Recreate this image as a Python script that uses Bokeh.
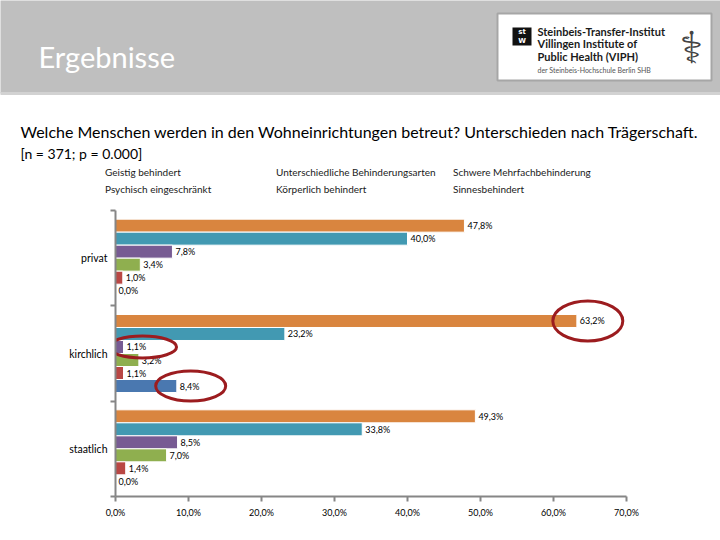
from bokeh.plotting import figure
from bokeh.models import (ColumnDataSource, FixedTicker, Legend, LegendItem, Range1d)
from bokeh.core.properties import value
from bokeh.embed import file_html
from bokeh.resources import INLINE

# ---------------- data ----------------
groups = ["privat", "kirchlich", "staatlich"]
series = ["Geistig behindert", "Unterschiedliche Behinderungsarten",
          "Schwere Mehrfachbehinderung", "Psychisch eingeschränkt",
          "Körperlich behindert", "Sinnesbehindert"]
geistig = [47.8, 63.2, 49.3]
unterschiedlich = [40.0, 23.2, 33.8]
schwer = [7.8, 1.1, 8.5]
psychisch = [3.4, 3.2, 7.0]
koerperlich = [1.0, 1.1, 1.4]
sinnes = [0.0, 8.4, 0.0]
values_all = [geistig, unterschiedlich, schwer, psychisch, koerperlich, sinnes]

x_ticks = [0, 10, 20, 30, 40, 50, 60, 70]
x_tick_labels = ["0,0%", "10,0%", "20,0%", "30,0%", "40,0%", "50,0%", "60,0%", "70,0%"]

# highlighted (circled) values: (group index, series index)
circled = [(1, 0), (1, 2), (1, 5)]

title_text = "Welche Menschen werden in den Wohneinrichtungen betreut? Unterschieden nach Trägerschaft."
subtitle_text = "[n = 371; p = 0.000]"
header_text = "Ergebnisse"
logo_lines = ["Steinbeis-Transfer-Institut", "Villingen Institute of", "Public Health (VIPH)"]
logo_small = "der Steinbeis-Hochschule Berlin SHB"

# ---------------- style ----------------
colors = ["#D9853F", "#4299B2", "#775B93", "#8FAF4F", "#B94744", "#4A78B0"]
FONT = "Lato"
pitch = 0.1364
bar_h = 0.1364
n_groups = len(groups)
centers = [n_groups - 0.5 - i for i in range(n_groups)]

# ================= header / title / legend figure =================
h = figure(width=720, height=202, output_backend="svg", toolbar_location=None,
           x_range=Range1d(0, 720), y_range=Range1d(202, 0),
           min_border=0, min_border_left=0, min_border_right=0,
           min_border_top=0, min_border_bottom=0)
h.xaxis.visible = False
h.yaxis.visible = False
h.xgrid.visible = False
h.ygrid.visible = False
h.outline_line_color = None
h.title.visible = False

# grey band
h.quad(left=[-2], right=[722], top=[-2], bottom=[93], fill_color="#BFBFBF",
       line_color="#D2D2D2", line_width=3)
h.text(x=[38], y=[56], text=[header_text], text_color="white",
       text_font=value(FONT), text_font_size="29px", text_baseline="middle")
# logo
h.quad(left=[497], right=[711], top=[13], bottom=[80], fill_color="white",
       line_color="#A6A6A6", line_width=2)
h.quad(left=[512], right=[531], top=[27], bottom=[45], fill_color="#111111", line_color=None)
h.text(x=[521.5, 521.5], y=[31.5, 40.5], text=["st", "W"], text_color="white",
       text_font=value("DejaVu Sans"), text_font_style="bold", text_font_size="7px",
       text_align="center", text_baseline="middle")
h.text(x=[537] * 3, y=[31, 43, 56], text=logo_lines, text_color="#1a1a1a",
       text_font=value(FONT), text_font_style="bold", text_font_size="11px",
       text_baseline="middle")
h.text(x=[537], y=[69], text=[logo_small], text_color="#555555",
       text_font=value(FONT), text_font_size="7px", text_baseline="middle")
h.text(x=[691], y=[47], text=["\u2695"], text_color="#444444",
       text_font=value("DejaVu Sans"), text_font_size="44px",
       text_align="center", text_baseline="middle")
# titles
h.text(x=[20], y=[131], text=[title_text], text_color="black",
       text_font=value(FONT), text_font_size="16px", text_baseline="middle")
h.text(x=[20], y=[153], text=[subtitle_text], text_color="black",
       text_font=value(FONT), text_font_size="14px", text_baseline="middle")

# legend (3 columns x 2 rows) using colour swatch renderers without data
leg_rends = []
for col in colors:
    leg_rends.append(h.hbar(y=[], left=[], right=[], height=1,
                            fill_color=col, line_color="white", line_width=1))
leg_cols = [[0, 3], [1, 4], [2, 5]]
leg_x = [97, 268, 445]
for idxs, lx in zip(leg_cols, leg_x):
    leg = Legend(items=[LegendItem(label=series[k], renderers=[leg_rends[k]]) for k in idxs],
                 location=(lx, 7), orientation="vertical",
                 background_fill_alpha=0, border_line_color=None,
                 padding=0, margin=0, spacing=5, glyph_width=6, glyph_height=6,
                 label_standoff=2, label_height=12,
                 label_text_font=FONT, label_text_font_size="10px",
                 label_text_color="#1a1a1a")
    h.add_layout(leg, "center")

# ================= chart figure =================
p = figure(width=720, height=338, output_backend="svg", toolbar_location=None,
           x_range=Range1d(0, 70), y_range=Range1d(0, n_groups),
           min_border_left=115, min_border_right=94,
           min_border_top=8, min_border_bottom=44)
p.outline_line_color = None
p.xgrid.visible = False
p.ygrid.visible = False
p.title.visible = False

axis_col = "#868686"
p.xaxis.ticker = FixedTicker(ticks=x_ticks)
p.xaxis.major_label_overrides = {t: l for t, l in zip(x_ticks, x_tick_labels)}
p.xaxis.axis_line_color = axis_col
p.xaxis.axis_line_width = 2
p.xaxis.major_tick_line_color = axis_col
p.xaxis.major_tick_line_width = 2
p.xaxis.major_tick_out = 5
p.xaxis.major_tick_in = 0
p.xaxis.minor_tick_line_color = None
p.xaxis.major_label_standoff = 5
p.xaxis.major_label_text_font = FONT
p.xaxis.major_label_text_font_size = "9px"
p.xaxis.major_label_text_color = "black"

p.yaxis.ticker = FixedTicker(ticks=centers, minor_ticks=list(range(n_groups + 1)))
p.yaxis.major_label_overrides = {c: g for c, g in zip(centers, groups)}
p.yaxis.axis_line_color = axis_col
p.yaxis.axis_line_width = 2
p.yaxis.major_tick_line_color = None
p.yaxis.major_tick_out = 0
p.yaxis.major_tick_in = 0
p.yaxis.minor_tick_line_color = axis_col
p.yaxis.minor_tick_line_width = 2
p.yaxis.minor_tick_out = 5
p.yaxis.minor_tick_in = 0
p.yaxis.major_label_standoff = 3
p.yaxis.major_label_text_font = FONT
p.yaxis.major_label_text_font_size = "10.5px"
p.yaxis.major_label_text_color = "black"

for j, (name, vals, col) in enumerate(zip(series, values_all, colors)):
    ys = [c + (2.5 - j) * pitch for c in centers]
    src = ColumnDataSource(dict(y=ys, v=vals,
                                lab=[f"{v:.1f}".replace(".", ",") + "%" for v in vals]))
    p.hbar(y="y", left=0, right="v", height=bar_h, source=src,
           fill_color=col, line_color="white", line_width=1)
    p.text(x="v", y="y", text="lab", source=src, x_offset=3,
           text_baseline="middle", text_align="left",
           text_font=value(FONT), text_font_size="9px", text_color="black")

# circled highlights
ell_dx = [1.5, 2.6, 1.9]
ell_w = [70, 68, 70]
ell_h = [40, 22, 30]
ex, ey = [], []
for (gi, sj), dx in zip(circled, ell_dx):
    ex.append(values_all[sj][gi] + dx)
    ey.append(centers[gi] + (2.5 - sj) * pitch)
p.ellipse(x=ex, y=ey, width=ell_w, height=ell_h, width_units="screen",
          height_units="screen", fill_color=None, line_color="#9C1C1F", line_width=3)

open("out.html", "w").write(file_html([h, p], INLINE))
